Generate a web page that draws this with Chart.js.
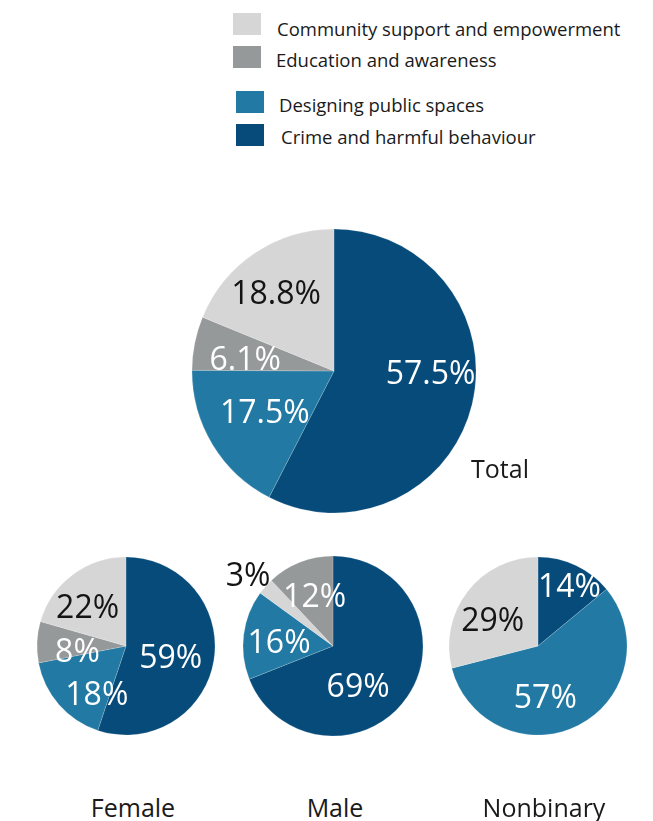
<!DOCTYPE html>
<html>
<head>
<meta charset="utf-8">
<title>Priorities by gender</title>
<script src="https://cdn.jsdelivr.net/npm/chart.js@4.4.1/dist/chart.umd.min.js"></script>
<style>
    html, body { margin: 0; padding: 0; background: #fff; }
    body {
        width: 653px; height: 821px; position: relative; overflow: hidden;
        font-family: "Open Sans", "Noto Sans", sans-serif; color: #1a1a1a;
    }
    .pie { position: absolute; }
    .swatch { position: absolute; width: 28px; height: 22px; }
    .legend-text { position: absolute; font-size: 18.5px; line-height: 1; white-space: nowrap; }
    .caption { position: absolute; font-size: 25px; line-height: 1; white-space: nowrap; transform: translateX(-50%); }
</style>
</head>
<body>
<div id="legend"></div>
<div id="pies"></div>
<script>
// Categories, in slice order clockwise from twelve o'clock
const categories = [
    'Crime and harmful behaviour',
    'Designing public spaces',
    'Education and awareness',
    'Community support and empowerment'
];
const groups = ['Total', 'Female', 'Male', 'Nonbinary'];

// Percentages per category (same order as categories)
const totalValues = [57.5, 17.5, 6.1, 18.8];
const femaleValues = [59, 18, 8, 22];
const maleValues = [69, 16, 12, 3];
const nonbinaryValues = [14, 57, 0, 29];

// Male pie puts community support before education
const defaultOrder = [0, 1, 2, 3];
const maleOrder = [0, 1, 3, 2];

const colors = ['#064b7a', '#227aa4', '#96999a', '#d6d6d6'];
const textColors = ['#ffffff', '#ffffff', '#ffffff', '#141414'];

// Where each pie sits and how big it is
const layout = {
    Total:     { cx: 333.5, cy: 371, r: 142, caption: { x: 500, top: 456 } },
    Female:    { cx: 126,   cy: 646, r: 89,  caption: { x: 133, top: 795 } },
    Male:      { cx: 333,   cy: 646, r: 90,  caption: { x: 335, top: 795 } },
    Nonbinary: { cx: 538,   cy: 646, r: 89,  caption: { x: 544, top: 795 } }
};

// Label placement per category: [fraction of radius, angle nudge in degrees]
const labelPlace = {
    Total:     [[0.68, -12], [0.57, 0], [0.63, -4], [0.68, -3]],
    Female:    [[0.52, 6], [0.64, -18], [0.55, -10], [0.61, -8]],
    Male:      [[0.53, 24], [0.6, -4], [0.58, 1], [1.22, -2]],
    Nonbinary: [[0.75, 3], [0.59, 19], [0.6, 0], [0.58, -9]]
};

const seriesFor = {
    Total: { values: totalValues, order: defaultOrder },
    Female: { values: femaleValues, order: defaultOrder },
    Male: { values: maleValues, order: maleOrder },
    Nonbinary: { values: nonbinaryValues, order: defaultOrder }
};

// Draws "NN%" inside (or beside) each slice
const sliceLabels = {
    id: 'sliceLabels',
    afterDatasetsDraw(chart, args, opts) {
        const ctx = chart.ctx;
        const meta = chart.getDatasetMeta(0);
        const values = chart.data.datasets[0].data;
        ctx.save();
        ctx.font = '400 32px "Open Sans"';
        ctx.textAlign = 'center';
        ctx.textBaseline = 'middle';
        meta.data.forEach((arc, i) => {
            const v = values[i];
            if (!v) return;
            const place = opts.place[i];
            const mid = (arc.startAngle + arc.endAngle) / 2 + place[1] * Math.PI / 180;
            const r = arc.outerRadius * place[0];
            ctx.fillStyle = opts.colors[i];
            ctx.fillText(v + '%', arc.x + Math.cos(mid) * r, arc.y + Math.sin(mid) * r + 1);
        });
        ctx.restore();
    }
};

const PAD = 34;

function buildPie(group) {
    const box = layout[group];
    const series = seriesFor[group];
    const size = Math.round(2 * (box.r + PAD));

    const holder = document.createElement('div');
    holder.className = 'pie';
    holder.style.left = (box.cx - size / 2) + 'px';
    holder.style.top = (box.cy - size / 2) + 'px';
    const canvas = document.createElement('canvas');
    canvas.width = size;
    canvas.height = size;
    holder.appendChild(canvas);
    document.getElementById('pies').appendChild(holder);

    const idx = series.order;
    new Chart(canvas, {
        type: 'pie',
        data: {
            labels: idx.map(i => categories[i]),
            datasets: [{
                data: idx.map(i => series.values[i]),
                backgroundColor: idx.map(i => colors[i]),
                borderColor: 'rgba(255,255,255,0.35)',
                borderWidth: 0.5,
                radius: box.r
            }]
        },
        options: {
            responsive: false,
            devicePixelRatio: 1,
            animation: false,
            events: [],
            plugins: {
                legend: { display: false },
                tooltip: { enabled: false },
                sliceLabels: {
                    place: idx.map(i => labelPlace[group][i]),
                    colors: idx.map(i => textColors[i])
                }
            }
        },
        plugins: [sliceLabels]
    });

    const cap = document.createElement('div');
    cap.className = 'caption';
    cap.style.left = box.caption.x + 'px';
    cap.style.top = box.caption.top + 'px';
    cap.textContent = group;
    document.body.appendChild(cap);
}

// Legend, listed bottom-up relative to slice order, in two pairs
function buildLegend() {
    const rows = [
        { cat: 3, swatchX: 233, swatchY: 13, textX: 277, textTop: 20 },
        { cat: 2, swatchX: 233, swatchY: 46, textX: 276, textTop: 51 },
        { cat: 1, swatchX: 236, swatchY: 91, textX: 279, textTop: 96 },
        { cat: 0, swatchX: 236, swatchY: 124, textX: 281, textTop: 128 }
    ];
    const host = document.getElementById('legend');
    rows.forEach(row => {
        const sw = document.createElement('div');
        sw.className = 'swatch';
        sw.style.left = row.swatchX + 'px';
        sw.style.top = row.swatchY + 'px';
        sw.style.background = colors[row.cat];
        host.appendChild(sw);

        const label = document.createElement('div');
        label.className = 'legend-text';
        label.style.left = row.textX + 'px';
        label.style.top = row.textTop + 'px';
        label.textContent = categories[row.cat];
        host.appendChild(label);
    });
}

buildLegend();
groups.forEach(buildPie);
</script>
</body>
</html>
